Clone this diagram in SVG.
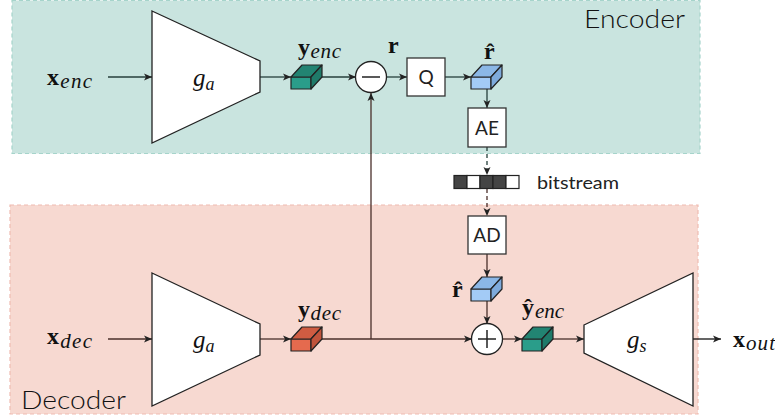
<svg xmlns="http://www.w3.org/2000/svg" width="775" height="416" viewBox="0 0 775 416">
<style>
.enc-bg{fill:#c9e4df;stroke:#a6d4cb;stroke-width:1.2;stroke-dasharray:4 3}
.dec-bg{fill:#f7d9d1;stroke:#efbcb1;stroke-width:1.2;stroke-dasharray:4 3}
.trap{fill:#fff;stroke:#222;stroke-width:1.3}
.box{fill:#fff;stroke:#333;stroke-width:1.3}
.ln{fill:none;stroke-width:1.3}
.ce{stroke:#263f3b}
.cd{stroke:#4a2f2a}
.dash{stroke-dasharray:4 3}
.cube{stroke:#222;stroke-width:1.2;stroke-linejoin:round}
.sans{font-family:Lato,"Open Sans","Liberation Sans",sans-serif;font-weight:300;fill:#111}
.lbl{font-weight:400;fill:#222}
.m{font-family:"Liberation Serif","DejaVu Serif",serif;fill:#111}
.b{font-weight:bold}
.i{font-style:italic}
</style>
<defs>
<marker id="ah" markerWidth="9" markerHeight="8" refX="8" refY="4" orient="auto" markerUnits="userSpaceOnUse">
<path d="M0,0.5 L8,4 L0,7.5 L2,4 z" fill="#222"/>
</marker>
</defs>

<g id="encoder-region">
<rect class="enc-bg" x="12" y="0.5" width="688" height="153"/>
<text class="sans" x="584" y="28" font-size="26" textLength="101" lengthAdjust="spacingAndGlyphs">Encoder</text>
</g>
<g id="decoder-region">
<rect class="dec-bg" x="10" y="205" width="688" height="209"/>
<text class="sans" x="21" y="409" font-size="26" textLength="105" lengthAdjust="spacingAndGlyphs">Decoder</text>
</g>

<g id="connectors">
<line class="ln ce" x1="108" y1="77" x2="152" y2="77" marker-end="url(#ah)"/>
<line class="ln ce" x1="260" y1="77" x2="291" y2="77" marker-end="url(#ah)"/>
<line class="ln ce" x1="322" y1="77" x2="356" y2="77" marker-end="url(#ah)"/>
<line class="ln ce" x1="387" y1="77" x2="407" y2="77" marker-end="url(#ah)"/>
<line class="ln ce" x1="445" y1="77" x2="471" y2="77" marker-end="url(#ah)"/>
<line class="ln ce" x1="487" y1="89" x2="487" y2="108" marker-end="url(#ah)"/>
<line class="ln ce dash" x1="487" y1="147" x2="487" y2="175" marker-end="url(#ah)"/>
<line class="ln cd dash" x1="487" y1="189" x2="487" y2="216" marker-end="url(#ah)"/>
<line class="ln cd" x1="108" y1="339" x2="152" y2="339" marker-end="url(#ah)"/>
<line class="ln cd" x1="260" y1="339" x2="291" y2="339" marker-end="url(#ah)"/>
<line class="ln cd" x1="322" y1="339" x2="472" y2="339" marker-end="url(#ah)"/>
<line class="ln cd" x1="371" y1="339" x2="371" y2="93" marker-end="url(#ah)"/>
<line class="ln cd" x1="487" y1="254" x2="487" y2="277" marker-end="url(#ah)"/>
<line class="ln cd" x1="487" y1="301" x2="487" y2="324" marker-end="url(#ah)"/>
<line class="ln cd" x1="502" y1="339" x2="522" y2="339" marker-end="url(#ah)"/>
<line class="ln cd" x1="553" y1="339" x2="584" y2="339" marker-end="url(#ah)"/>
<line class="ln" stroke="#111" x1="693" y1="339" x2="721" y2="339" marker-end="url(#ah)"/>
</g>

<g id="x-enc">
<text class="m" x="47" y="85" font-size="24" textLength="45" lengthAdjust="spacing"><tspan class="b">x</tspan><tspan class="i" font-size="21" dy="3">enc</tspan></text>
</g>
<g id="ga-enc">
<polygon class="trap" points="152,11 260,61 260,92 152,143"/>
<text class="m i" x="193" y="86" font-size="25">g<tspan font-size="18" dy="4">a</tspan></text>
</g>
<g id="y-enc">
<rect x="291" y="77" width="20" height="12" fill="#2a9d8a" class="cube"/>
<polygon points="291,77 302,65 322,65 311,77" fill="#228472" class="cube"/>
<polygon points="311,77 322,65 322,77 311,89" fill="#1f7a69" class="cube"/>
<text class="m" x="298" y="55" font-size="24" textLength="43" lengthAdjust="spacing"><tspan class="b">y</tspan><tspan class="i" font-size="21" dy="3">enc</tspan></text>
</g>
<g id="minus">
<circle cx="371" cy="77" r="15.5" fill="#fff" stroke="#222" stroke-width="1.3"/>
<line x1="362" y1="77" x2="380" y2="77" stroke="#222" stroke-width="1.5"/>
<text class="m b" x="388" y="53" font-size="24">r</text>
</g>
<g id="Q">
<rect class="box" x="407" y="58" width="38" height="38"/>
<text class="sans lbl" x="426" y="84" font-size="19" text-anchor="middle">Q</text>
</g>
<g id="rhat-enc">
<rect x="471" y="77" width="20" height="12" fill="#a3cbf6" class="cube"/>
<polygon points="471,77 482,65 502,65 491,77" fill="#8bb7e6" class="cube"/>
<polygon points="491,77 502,65 502,77 491,89" fill="#7eaadb" class="cube"/>
<text class="m b" x="484" y="59" font-size="24">r&#770;</text>
</g>
<g id="AE">
<rect class="box" x="468" y="108" width="38" height="39"/>
<text class="sans lbl" x="487" y="135" font-size="19" text-anchor="middle">AE</text>
</g>
<g id="bitstream">
<rect x="454" y="175.5" width="13" height="13" fill="#444" stroke="#222" stroke-width="1.2"/>
<rect x="467" y="175.5" width="13" height="13" fill="#fff" stroke="#222" stroke-width="1.2"/>
<rect x="480" y="175.5" width="13" height="13" fill="#444" stroke="#222" stroke-width="1.2"/>
<rect x="493" y="175.5" width="13" height="13" fill="#444" stroke="#222" stroke-width="1.2"/>
<rect x="506" y="175.5" width="13" height="13" fill="#fff" stroke="#222" stroke-width="1.2"/>
<text class="sans lbl" x="537" y="189" font-size="18" textLength="82" lengthAdjust="spacingAndGlyphs">bitstream</text>
</g>
<g id="AD">
<rect class="box" x="468" y="216" width="38" height="38"/>
<text class="sans lbl" x="487" y="242" font-size="19" text-anchor="middle">AD</text>
</g>
<g id="rhat-dec">
<rect x="471" y="289" width="20" height="12" fill="#a3cbf6" class="cube"/>
<polygon points="471,289 482,277 502,277 491,289" fill="#8bb7e6" class="cube"/>
<polygon points="491,289 502,277 502,289 491,301" fill="#7eaadb" class="cube"/>
<text class="m b" x="452" y="297" font-size="24">r&#770;</text>
</g>
<g id="x-dec">
<text class="m" x="47" y="344" font-size="24" textLength="45" lengthAdjust="spacing"><tspan class="b">x</tspan><tspan class="i" font-size="21" dy="4">dec</tspan></text>
</g>
<g id="ga-dec">
<polygon class="trap" points="152,273 260,324 260,355 152,406"/>
<text class="m i" x="193" y="348" font-size="25">g<tspan font-size="18" dy="4">a</tspan></text>
</g>
<g id="y-dec">
<rect x="291" y="339" width="20" height="12" fill="#e56a4e" class="cube"/>
<polygon points="291,339 302,327 322,327 311,339" fill="#cf5c42" class="cube"/>
<polygon points="311,339 322,327 322,339 311,351" fill="#c0543c" class="cube"/>
<text class="m" x="298" y="317" font-size="24" textLength="43" lengthAdjust="spacing"><tspan class="b">y</tspan><tspan class="i" font-size="21" dy="3">dec</tspan></text>
</g>
<g id="plus">
<circle cx="487" cy="339" r="15.5" fill="#fff" stroke="#222" stroke-width="1.3"/>
<line x1="478" y1="339" x2="496" y2="339" stroke="#222" stroke-width="1.5"/>
<line x1="487" y1="330" x2="487" y2="348" stroke="#222" stroke-width="1.5"/>
</g>
<g id="yhat-enc">
<rect x="522" y="339" width="20" height="12" fill="#2a9d8a" class="cube"/>
<polygon points="522,339 533,327 553,327 542,339" fill="#228472" class="cube"/>
<polygon points="542,339 553,327 553,339 542,351" fill="#1f7a69" class="cube"/>
<text class="m" x="522" y="315" font-size="24"><tspan class="b">y&#770;</tspan><tspan class="i" font-size="21" dy="3" dx="1">enc</tspan></text>
</g>
<g id="gs">
<polygon class="trap" points="584,325 693,273 693,406 584,353"/>
<text class="m i" x="627" y="348" font-size="25">g<tspan font-size="18" dy="4">s</tspan></text>
</g>
<g id="x-out">
<text class="m" x="733" y="347" font-size="24" textLength="42" lengthAdjust="spacing"><tspan class="b">x</tspan><tspan class="i" font-size="21" dy="3">out</tspan></text>
</g>
</svg>
